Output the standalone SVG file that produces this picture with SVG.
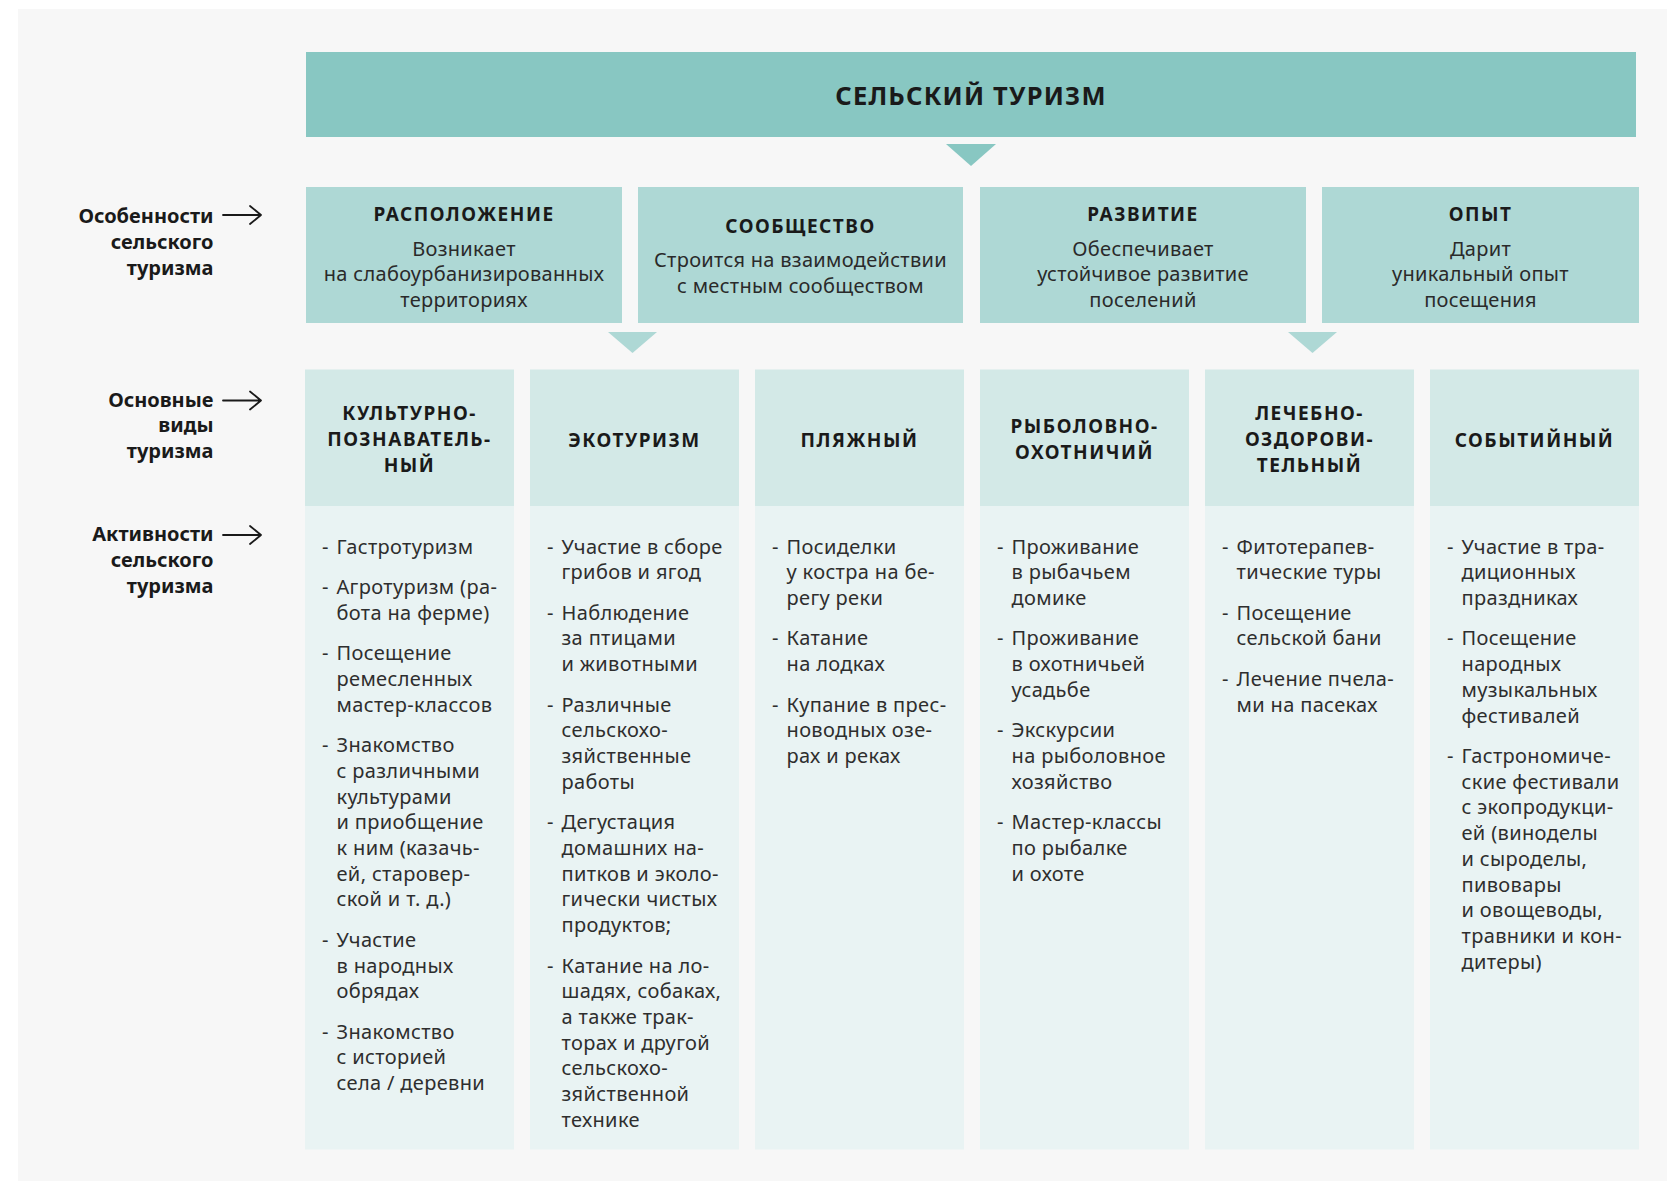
<svg xmlns="http://www.w3.org/2000/svg" width="1667" height="1181" viewBox="0 0 1667 1181">
<style>
.bg{fill:#f7f7f7}
.top{fill:#88c7c2}
.feat{fill:#aed8d5}
.hdr{fill:#d3e9e7}
.cnt{fill:#e9f3f3}
text{font-family:"Noto Sans","DejaVu Sans",sans-serif}
.t0{font-size:25.5px;font-weight:700;letter-spacing:1.2px;text-anchor:middle;fill:#1a1a1a}
.ft{font-size:19px;font-weight:700;letter-spacing:1.5px;text-anchor:middle;fill:#1a1a1a}
.fb{font-size:20px;letter-spacing:0.3px;text-anchor:middle;fill:#2a2a2a}
.ht{font-size:19px;font-weight:700;letter-spacing:1.5px;text-anchor:middle;fill:#1a1a1a}
.li{font-size:20px;letter-spacing:0.35px;fill:#2e2e2e}
.lbl{font-size:20px;font-weight:700;text-anchor:end;fill:#1a1a1a}
.arr{fill:none;stroke:#1a1a1a;stroke-width:1.8;stroke-linecap:round;stroke-linejoin:round}
.tri1{fill:#88c7c2}
.tri2{fill:#aed8d5}
</style>
<rect x="0" y="0" width="1667" height="1181" fill="#ffffff"/>
<rect class="bg" x="18" y="9" width="1649" height="1172"/>

<g id="labels">
  <g id="label-features">
    <text class="lbl"><tspan x="213.5" y="223.3">Особенности</tspan><tspan x="213.5" y="249">сельского</tspan><tspan x="213.5" y="274.7">туризма</tspan></text>
  </g>
  <g id="label-types">
    <text class="lbl"><tspan x="213.5" y="406.5">Основные</tspan><tspan x="213.5" y="432.2">виды</tspan><tspan x="213.5" y="457.9">туризма</tspan></text>
  </g>
  <g id="label-activities">
    <text class="lbl"><tspan x="213.5" y="541.3">Активности</tspan><tspan x="213.5" y="567">сельского</tspan><tspan x="213.5" y="592.7">туризма</tspan></text>
  </g>
</g>

<g id="node-rural-tourism">
  <rect class="top" x="306" y="52" width="1330" height="85"/>
  <text class="t0" x="971" y="105">СЕЛЬСКИЙ ТУРИЗМ</text>
</g>

<g id="node-location">
  <rect class="feat" x="306" y="187" width="316" height="136"/>
  <text class="ft" x="464" y="220.7">РАСПОЛОЖЕНИЕ</text>
  <text class="fb"><tspan x="464" y="255.7">Возникает</tspan><tspan x="464" y="281.4">на слабоурбанизированных</tspan><tspan x="464" y="307.1">территориях</tspan></text>
</g>
<g id="node-community">
  <rect class="feat" x="638" y="187" width="325" height="136"/>
  <text class="ft" x="800.5" y="233">СООБЩЕСТВО</text>
  <text class="fb"><tspan x="800.5" y="267.3">Строится на взаимодействии</tspan><tspan x="800.5" y="293">с местным сообществом</tspan></text>
</g>
<g id="node-development">
  <rect class="feat" x="980" y="187" width="326" height="136"/>
  <text class="ft" x="1143" y="220.7">РАЗВИТИЕ</text>
  <text class="fb"><tspan x="1143" y="255.7">Обеспечивает</tspan><tspan x="1143" y="281.4">устойчивое развитие</tspan><tspan x="1143" y="307.1">поселений</tspan></text>
</g>
<g id="node-experience">
  <rect class="feat" x="1322" y="187" width="317" height="136"/>
  <text class="ft" x="1480.5" y="220.7">ОПЫТ</text>
  <text class="fb"><tspan x="1480.5" y="255.7">Дарит</tspan><tspan x="1480.5" y="281.4">уникальный опыт</tspan><tspan x="1480.5" y="307.1">посещения</tspan></text>
</g>

<g id="node-cultural">
  <rect class="hdr" x="305" y="369.5" width="209" height="136.5"/>
  <rect class="cnt" x="305" y="506" width="209" height="643.5"/>
  <text class="ht"><tspan x="409.5" y="420">КУЛЬТУРНО-</tspan><tspan x="409.5" y="446">ПОЗНАВАТЕЛЬ-</tspan><tspan x="409.5" y="472">НЫЙ</tspan></text>
  <text class="li">
    <tspan x="322" y="553.5">-</tspan><tspan x="336.5" y="553.5">Гастротуризм</tspan>
    <tspan x="322" y="594">-</tspan><tspan x="336.5" y="594">Агротуризм (ра-</tspan><tspan x="336.5" y="619.7">бота на ферме)</tspan>
    <tspan x="322" y="660.2">-</tspan><tspan x="336.5" y="660.2">Посещение</tspan><tspan x="336.5" y="685.9">ремесленных</tspan><tspan x="336.5" y="711.6">мастер-классов</tspan>
    <tspan x="322" y="752.1">-</tspan><tspan x="336.5" y="752.1">Знакомство</tspan><tspan x="336.5" y="777.8">с различными</tspan><tspan x="336.5" y="803.5">культурами</tspan><tspan x="336.5" y="829.2">и приобщение</tspan><tspan x="336.5" y="854.9">к ним (казачь-</tspan><tspan x="336.5" y="880.6">ей, старовер-</tspan><tspan x="336.5" y="906.3">ской и т. д.)</tspan>
    <tspan x="322" y="946.8">-</tspan><tspan x="336.5" y="946.8">Участие</tspan><tspan x="336.5" y="972.5">в народных</tspan><tspan x="336.5" y="998.2">обрядах</tspan>
    <tspan x="322" y="1038.7">-</tspan><tspan x="336.5" y="1038.7">Знакомство</tspan><tspan x="336.5" y="1064.4">с историей</tspan><tspan x="336.5" y="1090.1">села / деревни</tspan>
  </text>
</g>

<g id="node-ecotourism">
  <rect class="hdr" x="530" y="369.5" width="209" height="136.5"/>
  <rect class="cnt" x="530" y="506" width="209" height="643.5"/>
  <text class="ht" x="634.5" y="446.5">ЭКОТУРИЗМ</text>
  <text class="li">
    <tspan x="547" y="553.5">-</tspan><tspan x="561.5" y="553.5">Участие в сборе</tspan><tspan x="561.5" y="579.2">грибов и ягод</tspan>
    <tspan x="547" y="619.7">-</tspan><tspan x="561.5" y="619.7">Наблюдение</tspan><tspan x="561.5" y="645.4">за птицами</tspan><tspan x="561.5" y="671.1">и животными</tspan>
    <tspan x="547" y="711.6">-</tspan><tspan x="561.5" y="711.6">Различные</tspan><tspan x="561.5" y="737.3">сельскохо-</tspan><tspan x="561.5" y="763">зяйственные</tspan><tspan x="561.5" y="788.7">работы</tspan>
    <tspan x="547" y="829.2">-</tspan><tspan x="561.5" y="829.2">Дегустация</tspan><tspan x="561.5" y="854.9">домашних на-</tspan><tspan x="561.5" y="880.6">питков и эколо-</tspan><tspan x="561.5" y="906.3">гически чистых</tspan><tspan x="561.5" y="932">продуктов;</tspan>
    <tspan x="547" y="972.5">-</tspan><tspan x="561.5" y="972.5">Катание на ло-</tspan><tspan x="561.5" y="998.2">шадях, собаках,</tspan><tspan x="561.5" y="1023.9">а также трак-</tspan><tspan x="561.5" y="1049.6">торах и другой</tspan><tspan x="561.5" y="1075.3">сельскохо-</tspan><tspan x="561.5" y="1101">зяйственной</tspan><tspan x="561.5" y="1126.7">технике</tspan>
  </text>
</g>

<g id="node-beach">
  <rect class="hdr" x="755" y="369.5" width="209" height="136.5"/>
  <rect class="cnt" x="755" y="506" width="209" height="643.5"/>
  <text class="ht" x="859.5" y="446.5">ПЛЯЖНЫЙ</text>
  <text class="li">
    <tspan x="772" y="553.5">-</tspan><tspan x="786.5" y="553.5">Посиделки</tspan><tspan x="786.5" y="579.2">у костра на бе-</tspan><tspan x="786.5" y="604.9">регу реки</tspan>
    <tspan x="772" y="645.4">-</tspan><tspan x="786.5" y="645.4">Катание</tspan><tspan x="786.5" y="671.1">на лодках</tspan>
    <tspan x="772" y="711.6">-</tspan><tspan x="786.5" y="711.6">Купание в прес-</tspan><tspan x="786.5" y="737.3">новодных озе-</tspan><tspan x="786.5" y="763">рах и реках</tspan>
  </text>
</g>

<g id="node-fishing-hunting">
  <rect class="hdr" x="980" y="369.5" width="209" height="136.5"/>
  <rect class="cnt" x="980" y="506" width="209" height="643.5"/>
  <text class="ht"><tspan x="1084.5" y="433.3">РЫБОЛОВНО-</tspan><tspan x="1084.5" y="459.3">ОХОТНИЧИЙ</tspan></text>
  <text class="li">
    <tspan x="997" y="553.5">-</tspan><tspan x="1011.5" y="553.5">Проживание</tspan><tspan x="1011.5" y="579.2">в рыбачьем</tspan><tspan x="1011.5" y="604.9">домике</tspan>
    <tspan x="997" y="645.4">-</tspan><tspan x="1011.5" y="645.4">Проживание</tspan><tspan x="1011.5" y="671.1">в охотничьей</tspan><tspan x="1011.5" y="696.8">усадьбе</tspan>
    <tspan x="997" y="737.3">-</tspan><tspan x="1011.5" y="737.3">Экскурсии</tspan><tspan x="1011.5" y="763">на рыболовное</tspan><tspan x="1011.5" y="788.7">хозяйство</tspan>
    <tspan x="997" y="829.2">-</tspan><tspan x="1011.5" y="829.2">Мастер-классы</tspan><tspan x="1011.5" y="854.9">по рыбалке</tspan><tspan x="1011.5" y="880.6">и охоте</tspan>
  </text>
</g>

<g id="node-health">
  <rect class="hdr" x="1205" y="369.5" width="209" height="136.5"/>
  <rect class="cnt" x="1205" y="506" width="209" height="643.5"/>
  <text class="ht"><tspan x="1309.5" y="420">ЛЕЧЕБНО-</tspan><tspan x="1309.5" y="446">ОЗДОРОВИ-</tspan><tspan x="1309.5" y="472">ТЕЛЬНЫЙ</tspan></text>
  <text class="li">
    <tspan x="1222" y="553.5">-</tspan><tspan x="1236.5" y="553.5">Фитотерапев-</tspan><tspan x="1236.5" y="579.2">тические туры</tspan>
    <tspan x="1222" y="619.7">-</tspan><tspan x="1236.5" y="619.7">Посещение</tspan><tspan x="1236.5" y="645.4">сельской бани</tspan>
    <tspan x="1222" y="685.9">-</tspan><tspan x="1236.5" y="685.9">Лечение пчела-</tspan><tspan x="1236.5" y="711.6">ми на пасеках</tspan>
  </text>
</g>

<g id="node-event">
  <rect class="hdr" x="1430" y="369.5" width="209" height="136.5"/>
  <rect class="cnt" x="1430" y="506" width="209" height="643.5"/>
  <text class="ht" x="1534.5" y="446.5">СОБЫТИЙНЫЙ</text>
  <text class="li">
    <tspan x="1447" y="553.5">-</tspan><tspan x="1461.5" y="553.5">Участие в тра-</tspan><tspan x="1461.5" y="579.2">диционных</tspan><tspan x="1461.5" y="604.9">праздниках</tspan>
    <tspan x="1447" y="645.4">-</tspan><tspan x="1461.5" y="645.4">Посещение</tspan><tspan x="1461.5" y="671.1">народных</tspan><tspan x="1461.5" y="696.8">музыкальных</tspan><tspan x="1461.5" y="722.5">фестивалей</tspan>
    <tspan x="1447" y="763">-</tspan><tspan x="1461.5" y="763">Гастрономиче-</tspan><tspan x="1461.5" y="788.7">ские фестивали</tspan><tspan x="1461.5" y="814.4">с экопродукци-</tspan><tspan x="1461.5" y="840.1">ей (виноделы</tspan><tspan x="1461.5" y="865.8">и сыроделы,</tspan><tspan x="1461.5" y="891.5">пивовары</tspan><tspan x="1461.5" y="917.2">и овощеводы,</tspan><tspan x="1461.5" y="942.9">травники и кон-</tspan><tspan x="1461.5" y="968.6">дитеры)</tspan>
  </text>
</g>

<g id="connectors">
  <polygon class="tri1" points="946,144 996,144 971,166"/>
  <polygon class="tri2" points="608,332 657,332 632.5,353"/>
  <polygon class="tri2" points="1288,332 1337,332 1312.5,353"/>
  <path class="arr" d="M223 215 H261 M250 206 L261 215 L250 224"/>
  <path class="arr" d="M223 400.5 H261 M250 391.5 L261 400.5 L250 409.5"/>
  <path class="arr" d="M223 535 H261 M250 526 L261 535 L250 544"/>
</g>
</svg>
